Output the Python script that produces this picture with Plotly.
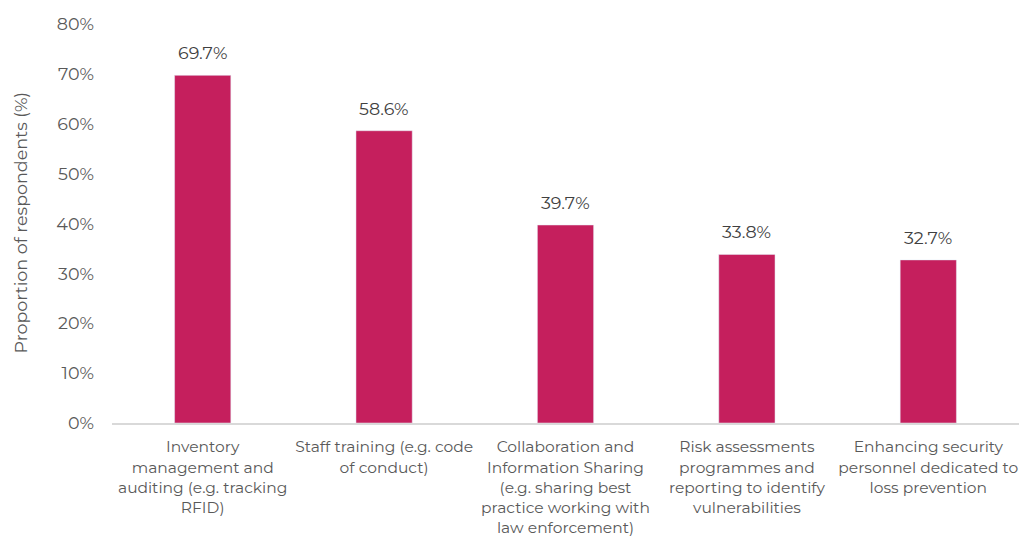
import plotly.graph_objects as go

categories = [
    "Inventory<br>management and<br>auditing (e.g. tracking<br>RFID)",
    "Staff training (e.g. code<br>of conduct)",
    "Collaboration and<br>Information Sharing<br>(e.g. sharing best<br>practice working with<br>law enforcement)",
    "Risk assessments<br>programmes and<br>reporting to identify<br>vulnerabilities",
    "Enhancing security<br>personnel dedicated to<br>loss prevention",
]
values = [69.7, 58.6, 39.7, 33.8, 32.7]
labels = [f"{v:.1f}%" for v in values]
tick_vals = [0, 10, 20, 30, 40, 50, 60, 70, 80]
tick_text = [f"{t}%" for t in tick_vals]

FONT = "Montserrat, 'DejaVu Sans', sans-serif"
GRAY = "#595959"

fig = go.Figure(go.Bar(
    x=categories, y=values,
    marker=dict(color="#C51F5D"), cliponaxis=False, width=0.31,
))

annotations = [
    dict(x=c, y=v, text=t, showarrow=False, yanchor="bottom", yshift=10,
         font=dict(size=17.5, color="#404040"))
    for c, v, t in zip(categories, values, labels)
]
annotations.append(dict(text="Proportion of respondents (%)", textangle=-90,
                        xref="paper", yref="paper", x=-(112 - 20) / 907, y=0.5,
                        xanchor="center", yanchor="middle", showarrow=False,
                        font=dict(size=17.5, color=GRAY)))

fig.update_layout(
    width=1019, height=537,
    margin=dict(l=112, r=0, t=24, b=110),
    plot_bgcolor="white", paper_bgcolor="white",
    font=dict(family=FONT, color=GRAY, size=15.5),
    showlegend=False,
    xaxis=dict(showline=True, linecolor="#d9d9d9", linewidth=1.5, ticks="",
               tickfont=dict(size=15.5, color=GRAY), ticklabelstandoff=9),
    yaxis=dict(range=[0, 80], tickvals=tick_vals, ticktext=tick_text,
               showgrid=False, zeroline=False, ticks="",
               tickfont=dict(size=17.5, color=GRAY), ticklabelstandoff=17),
    annotations=annotations,
)

fig.write_html("out.html")
